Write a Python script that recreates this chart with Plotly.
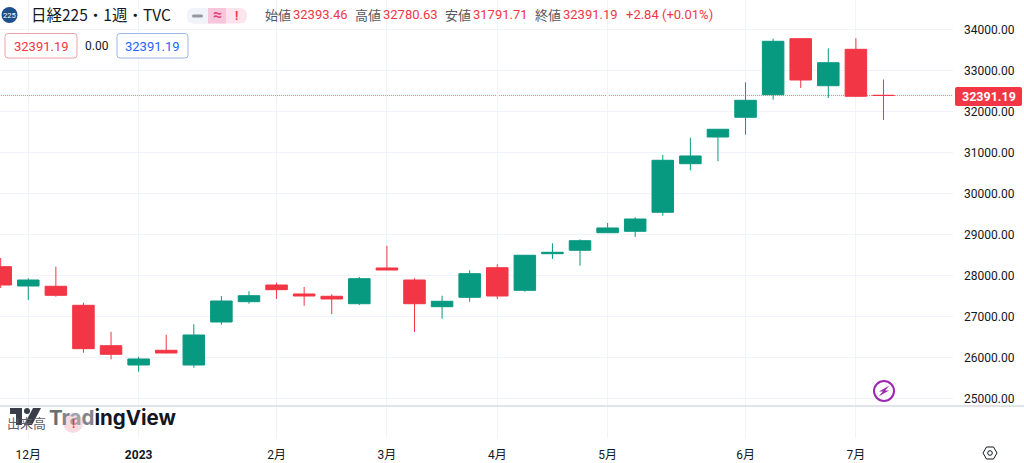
import plotly.graph_objects as go

index = list(range(33))
open_ = [28215,27744,27737,27273,26288,25817,26176,25817,26866,27361,27768,27549,27493,27312,28183,27890,27239,27468,28190,27639,28532,28615,29044,29078,29542,30727,31378,31859,32410,33776,32629,33517,32393.46]
high = [28427,27932,28215,27337,26629,26020,26556,26810,27500,27615,27825,27720,27542,27963,28727,27932,27507,28127,28273,28500,28785,28883,29281,29420,30939,31361,31570,32712,33776,33780,33541,33785,32780.63]
low = [27695,27403,27483,26117,25956,25654,26100,25751,26800,27312,27427,27264,27054,27281,28130,26622,26946,27361,27427,27605,28403,28239,29035,28939,29459,30566,30785,31434,32288,32573,32329,32354,31791.71]
close = [27768,27890,27517,26215,26078,25964,26110,26549,27378,27507,27654,27500,27427,27922,28134,27312,27371,28044,27500,28493,28566,28849,29159,29378,30810,30915,31566,32273,33712,32768,33190,32371,32391.19]

tick_index = [1,5,10,14,18,22,27,31]
tick_text = ["12月","<b>2023</b>","2月","3月","4月","5月","6月","7月"]
last_price = 32391.19
header_title = "日経225・1週・TVC"
ohlc_labels = [("始値",265),("高値",355),("安値",445),("終値",535)]
ohlc_values = [("32393.46",293),("32780.63",383),("31791.71",473),("32391.19",563)]
change_text = "+2.84 (+0.01%)"

W, H = 1024, 463
RED, GREEN, INK = "#F23645", "#089981", "#131722"
GRID = "#F0F3FA"
UI = "Roboto, 'Noto Sans CJK JP', sans-serif"

def px(x): return x / W
def py(y): return 1 - y / H

def rpath(x0, y0, x1, y1, r):
    a, b, c, d = px(x0), py(y0), px(x1), py(y1)
    return (f"M{px(x0+r)},{b} L{px(x1-r)},{b} Q{c},{b} {c},{py(y0+r)} L{c},{py(y1-r)} "
            f"Q{c},{d} {px(x1-r)},{d} L{px(x0+r)},{d} Q{a},{d} {a},{py(y1-r)} L{a},{py(y0+r)} Q{a},{b} {px(x0+r)},{b} Z")

def poly(pts):
    return "M" + " L".join(f"{px(x)},{py(y)}" for x, y in pts) + " Z"

def pshape(path, fill="rgba(0,0,0,0)", line=None, lw=1):
    return dict(type="path", xref="paper", yref="paper", path=path, fillcolor=fill,
                line=dict(color=line or "rgba(0,0,0,0)", width=lw if line else 0), layer="above")

def circle(cx, cy, r, fill="rgba(0,0,0,0)", line=None, lw=1):
    return dict(type="circle", xref="paper", yref="paper", x0=px(cx-r), x1=px(cx+r), y0=py(cy+r), y1=py(cy-r),
                fillcolor=fill, line=dict(color=line or "rgba(0,0,0,0)", width=lw if line else 0), layer="above")

def note(text, x, y, size=12.5, color=INK, anchor="left", font=UI):
    return dict(text=text, x=px(x), y=py(y), xref="paper", yref="paper", showarrow=False, xanchor=anchor,
                yanchor="middle", font=dict(size=size, color=color, family=font), borderpad=0, borderwidth=0)

fig = go.Figure()
fig.add_trace(go.Candlestick(x=index, open=open_, high=high, low=low, close=close, xaxis="x", yaxis="y",
    increasing=dict(line=dict(color=GREEN, width=1), fillcolor=GREEN),
    decreasing=dict(line=dict(color=RED, width=1), fillcolor=RED),
    whiskerwidth=0, showlegend=False, hoverinfo="skip"))
fig.add_trace(go.Scatter(x=[], y=[], xaxis="x", yaxis="y2", showlegend=False))

shapes = [
    dict(type="line", xref="x", yref="y", x0=-1, x1=34.52, y0=last_price, y1=last_price,
         line=dict(color="rgba(226,120,130,1)", width=1, dash="1px,1px"), layer="below"),
    dict(type="line", xref="paper", yref="paper", x0=0, x1=1, y0=py(406), y1=py(406),
         line=dict(color="#E0E3EB", width=2), layer="above"),
    circle(9.5, 15, 8, fill="#1D4F8C"),
    pshape(rpath(187, 8, 247, 23.5, 7.5), fill="#FCE4EC"),
    pshape(rpath(187, 8, 215, 23.5, 7.5), fill="#F0F3FA"),
    dict(type="rect", xref="paper", yref="paper", x0=px(208), x1=px(226), y0=py(23.5), y1=py(8),
         fillcolor="#F8C6DA", line=dict(width=0), layer="above"),
    pshape(rpath(192, 14.5, 203, 17.5, 1.5), fill="#9598A1"),
    pshape(rpath(5, 33.5, 77, 58, 3), fill="#FFFFFF", line="#E8A3AB"),
    pshape(rpath(117, 33.5, 188, 58, 3), fill="#FFFFFF", line="#9DB5E8"),
    pshape(rpath(955, 87, 1022, 106, 2), fill=RED),
    # TradingView mark
    pshape(poly([(10,408),(22,408),(22,425),(16,425),(16,414),(10,414)]), fill="#3A3E48"),
    circle(27, 411, 3, fill="#3A3E48"),
    pshape(poly([(33,408),(41,408),(32,425),(24,425)]), fill="#3A3E48"),
    circle(73, 423, 10, fill="#F9DCE2"),
    # lightning badge
    circle(884, 391, 10, line="#9C27B0", lw=2, fill="#FFFFFF"),
    pshape(poly([(889.5,385.5),(879,391.5),(883,391.5),(878.5,396.5),(889,390.5),(885,390.5)]), fill="#9C27B0"),
    # settings hexagon
    pshape(poly([(983,453),(986.5,447),(993.5,447),(997,453),(993.5,459),(986.5,459)]), line=INK, lw=1),
    circle(990, 453, 2.3, line=INK, lw=1),
]

anns = [
    note("225", 9.5, 15.5, size=7.5, color="#FFFFFF", anchor="center"),
    note(header_title, 31, 14, size=15.5, font="'Noto Sans CJK JP', sans-serif"),
    note("<b>≈</b>", 217, 15, size=16, color="#E0457B", anchor="center"),
    note("<b>!</b>", 236.5, 15.5, size=12, color=RED, anchor="center"),
    note("32391.19", 41, 46, size=13, color=RED, anchor="center"),
    note("0.00", 97, 46, size=12, color=INK, anchor="center"),
    note("32391.19", 152.5, 46, size=13, color="#2962FF", anchor="center"),
    note(change_text, 626, 15, size=13, color=RED),
    note(f"<b>{last_price:.2f}</b>", 988.5, 96.5, size=12.5, color="#FFFFFF", anchor="center"),
    note("".join(f'<b><span style="color:{c}">{t}</span></b>' for t, c in
         [("T","#6A6E78"),("r","#82858E"),("a","#A0A3AA"),("d","#82858E"),("ingView",INK)]),
         49, 417, size=20.5, anchor="left", font="Inter, sans-serif"),
    note("出来高", 7, 422, size=13, color="#5D606B", font="'Noto Sans CJK JP', sans-serif"),
    note("<b>!</b>", 73, 424, size=12, color=RED, anchor="center"),
]
for t, x in ohlc_labels:
    anns.append(note(t, x, 15, size=13, color="#555862", font="'Noto Sans CJK JP', sans-serif"))
for t, x in ohlc_values:
    anns.append(note(t, x, 15, size=13, color=RED))

fig.update_layout(
    width=W, height=H, autosize=False, margin=dict(l=0, r=0, t=0, b=0, pad=0),
    paper_bgcolor="#FFFFFF", plot_bgcolor="#FFFFFF", boxgap=0.22, boxgroupgap=0,
    font=dict(family=UI, color=INK, size=12), showlegend=False,
    xaxis=dict(domain=[0, px(953)], range=[-0.025, 34.52], anchor="y2", rangeslider=dict(visible=False),
               tickmode="array", tickvals=tick_index, ticktext=tick_text, tickfont=dict(size=12, color=INK),
               showgrid=True, gridcolor=GRID, gridwidth=1, zeroline=False, showline=False, ticks="",
               ticklabelstandoff=8),
    yaxis=dict(domain=[py(406), 1], range=[24817, 34719.5], side="right", anchor="x",
               tickmode="linear", tick0=25000, dtick=1000, tickformat=".2f",
               tickfont=dict(size=12, color=INK), showgrid=True, gridcolor=GRID, gridwidth=1,
               zeroline=False, showline=False, ticks="", ticklabelstandoff=10),
    yaxis2=dict(domain=[py(438), py(406)], range=[0, 1], side="right", anchor="x", showticklabels=False,
                showgrid=False, zeroline=False, showline=False, ticks=""),
    shapes=shapes, annotations=anns,
)
fig.write_html("out.html", config=dict(displayModeBar=False), post_script="document.body.style.margin='0';")
